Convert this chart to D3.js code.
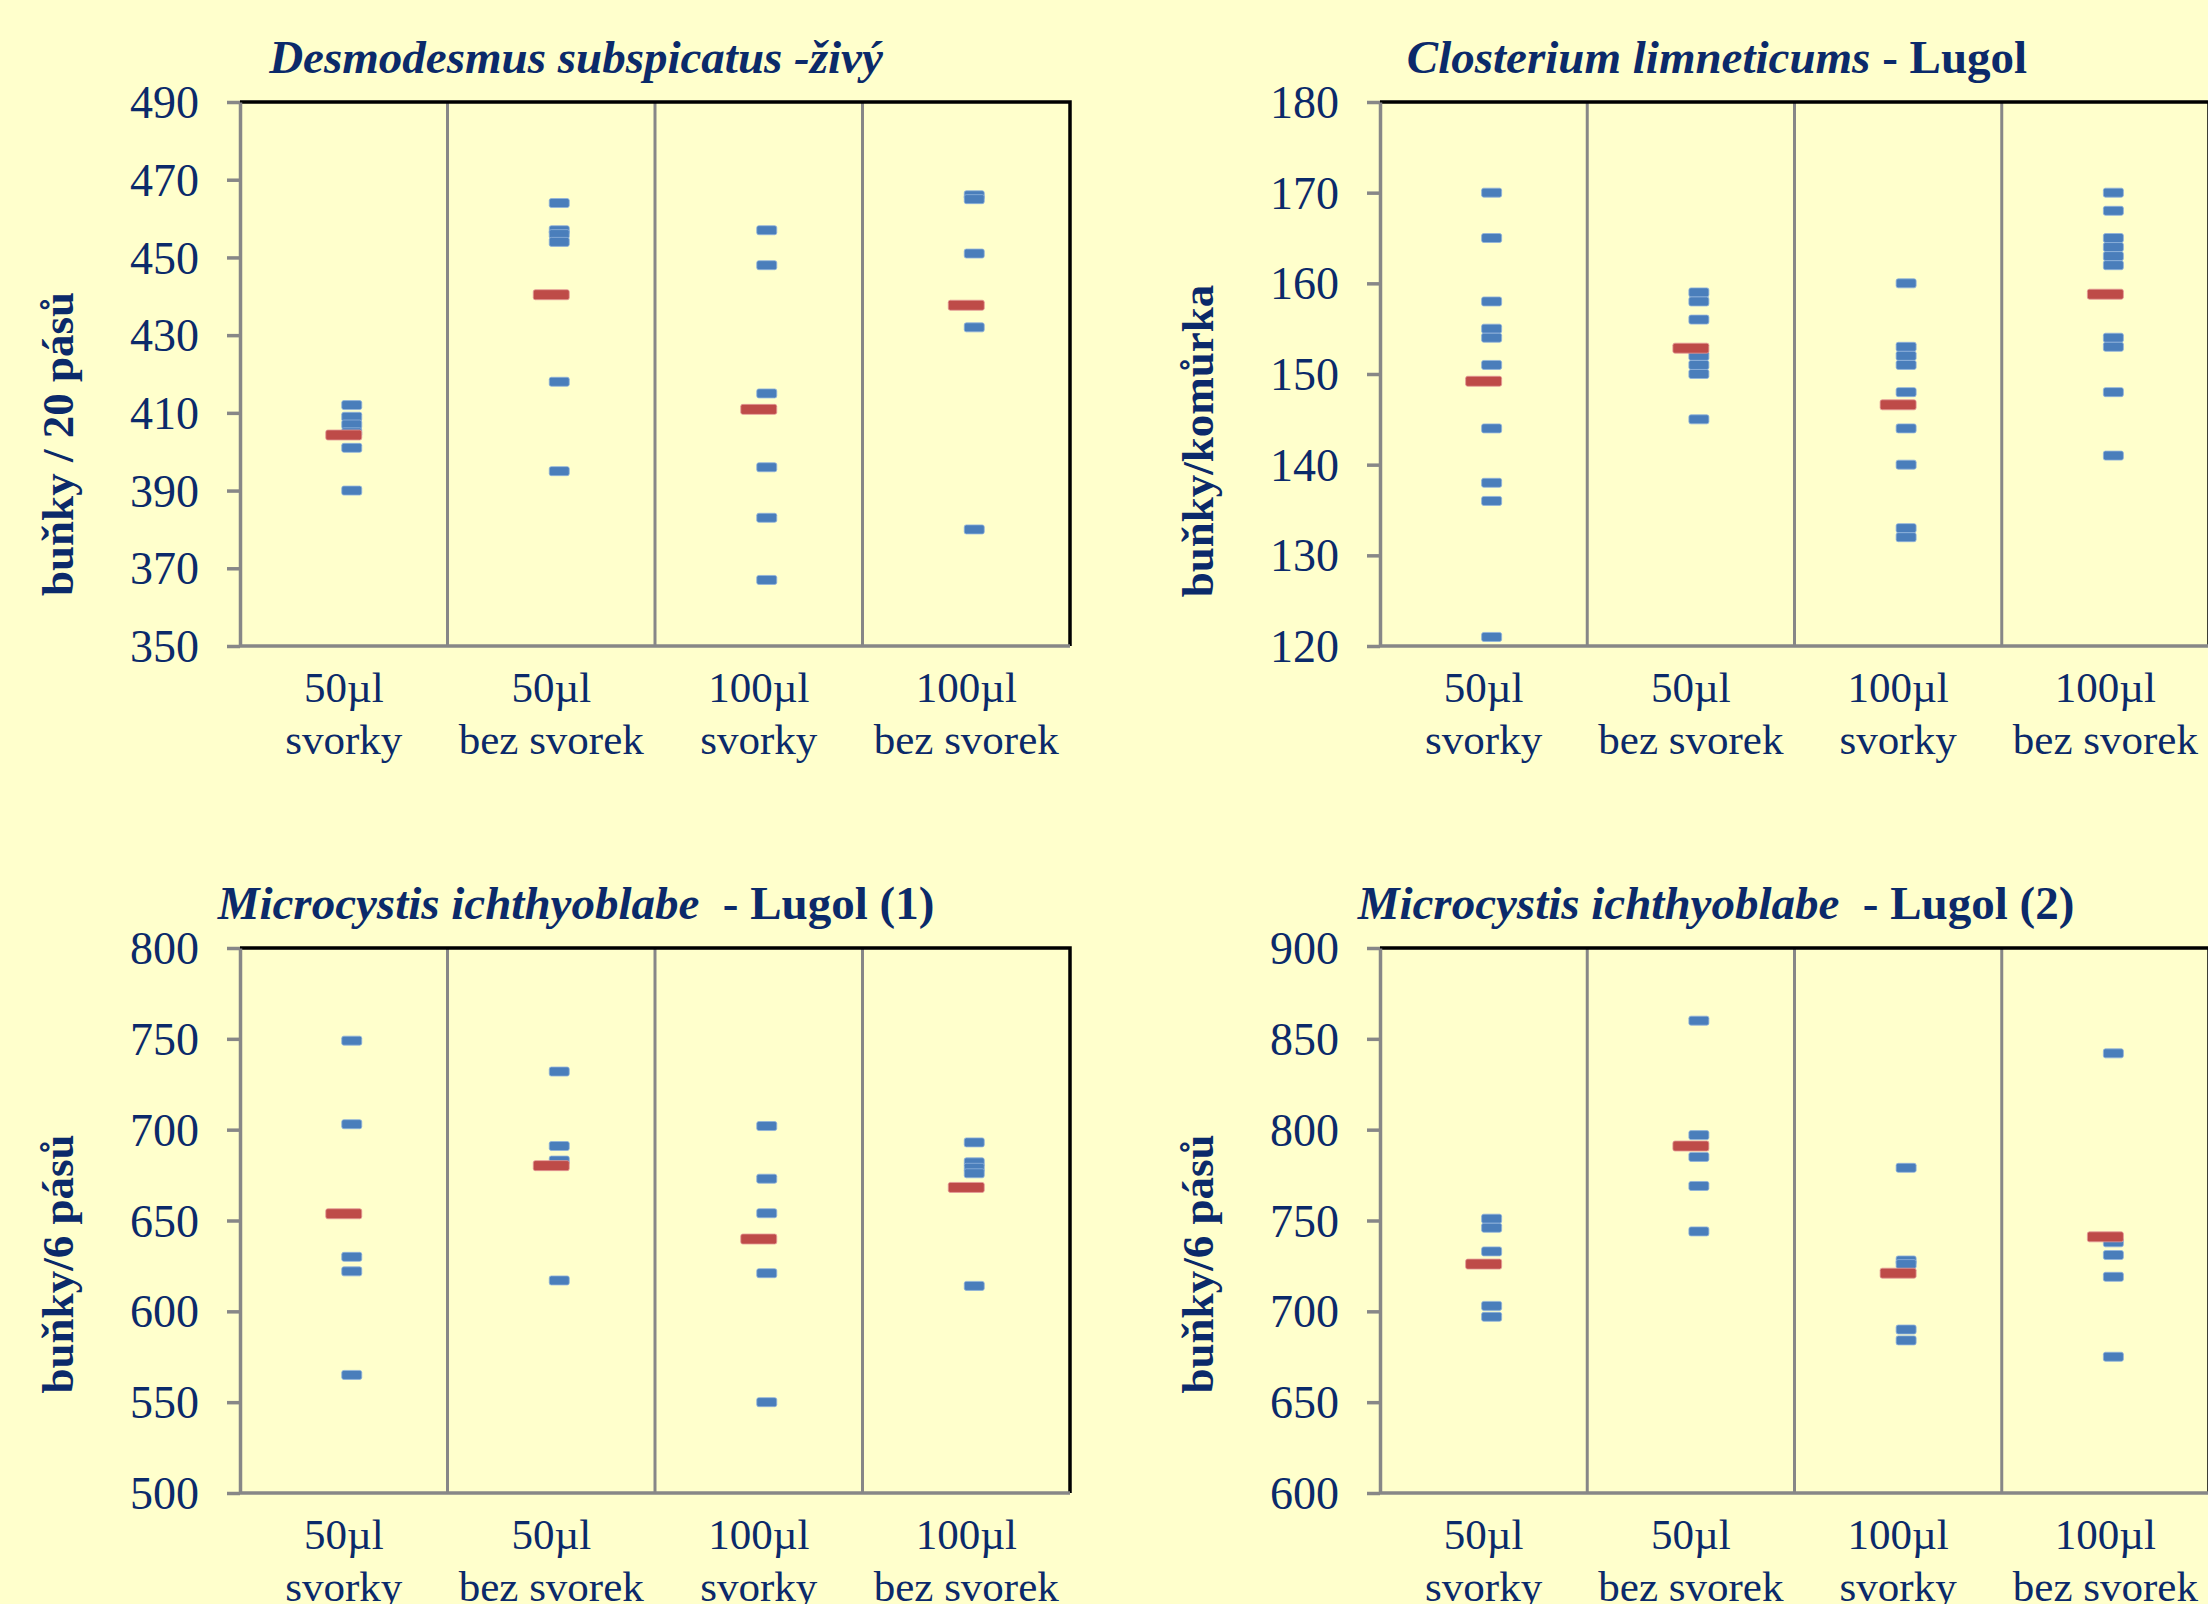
<!DOCTYPE html>
<html><head><meta charset="utf-8">
<script src="https://cdn.jsdelivr.net/npm/d3@7/dist/d3.min.js"></script>
<style>
body{margin:0;background:#FFFFCC;}
svg{display:block;}
text{font-family:"Liberation Serif","Times New Roman",serif;fill:#0B2A6A;white-space:pre;}
</style>
</head><body>
<svg id="chart" width="2208" height="1604"></svg>
<script>
// ---------- DATA ----------
const categories = ["50µl|svorky", "50µl|bez svorek", "100µl|svorky", "100µl|bez svorek"];

// Desmodesmus subspicatus - živý
const desmoValues = [
  [412, 409, 407, 405, 401, 390],
  [464, 457, 456, 454, 418, 395],
  [457, 448, 415, 396, 383, 367],
  [466, 465, 451, 432, 380]
];
const desmoMeans = [404.3, 440.4, 410.9, 437.7];
const desmoTicks = [350, 370, 390, 410, 430, 450, 470, 490];

// Closterium limneticums - Lugol
const closValues = [
  [170, 165, 158, 155, 154, 151, 144, 138, 136, 121],
  [159, 158, 156, 152, 151, 150, 145],
  [160, 153, 152, 151, 148, 144, 140, 133, 132],
  [170, 168, 165, 164, 163, 162, 154, 153, 148, 141]
];
const closMeans = [149.2, 152.85, 146.6, 158.8];
const closTicks = [120, 130, 140, 150, 160, 170, 180];

// Microcystis ichthyoblabe - Lugol (1)
const micro1Values = [
  [749, 703, 630, 622, 565],
  [732, 691, 683, 617],
  [702, 673, 654, 621, 550],
  [693, 682, 679, 676, 614]
];
const micro1Means = [653.7, 680.2, 639.8, 668.2];
const micro1Ticks = [500, 550, 600, 650, 700, 750, 800];

// Microcystis ichthyoblabe - Lugol (2)
const micro2Values = [
  [751, 746, 733, 703, 697],
  [860, 797, 785, 769, 744],
  [779, 728, 726, 690, 684],
  [842, 738, 731, 719, 675]
];
const micro2Means = [726, 791, 721, 741];
const micro2Ticks = [600, 650, 700, 750, 800, 850, 900];

// ---------- LAYOUT ----------
const panels = [
  {title: [["Desmodesmus subspicatus -živý", true]], titleX: 576, ytitle: "buňky / 20 pásů",
   values: desmoValues, means: desmoMeans, ticks: desmoTicks,
   x0: 240, x1: 1070, y0: 102, y1: 646, ytX: 73, ytY: 444},
  {title: [["Closterium limneticums", true], [" - Lugol", false]], titleX: 1717, ytitle: "buňky/komůrka",
   values: closValues, means: closMeans, ticks: closTicks,
   x0: 1380, x1: 2209, y0: 102, y1: 646, ytX: 1213, ytY: 441},
  {title: [["Microcystis ichthyoblabe", true], ["  - Lugol (1)", false]], titleX: 576, ytitle: "buňky/6 pásů",
   values: micro1Values, means: micro1Means, ticks: micro1Ticks,
   x0: 240, x1: 1070, y0: 948, y1: 1493, ytX: 73, ytY: 1264},
  {title: [["Microcystis ichthyoblabe", true], ["  - Lugol (2)", false]], titleX: 1716, ytitle: "buňky/6 pásů",
   values: micro2Values, means: micro2Means, ticks: micro2Ticks,
   x0: 1380, x1: 2209, y0: 948, y1: 1493, ytX: 1213, ytY: 1264}
];

const svg = d3.select("#chart");
svg.append("rect").attr("width", 2208).attr("height", 1604).attr("fill", "#FFFFCC");

const GRAY = "#878787";
const BLUE = "#4A7EBB";
const RED = "#BE4B48";

panels.forEach(p => {
  const g = svg.append("g");
  const x = d3.scaleBand().domain(categories).range([p.x0, p.x1]).padding(0);
  const y = d3.scaleLinear().domain(d3.extent(p.ticks)).range([p.y1, p.y0]);
  const bw = x.bandwidth();

  // dividers
  g.selectAll(".div").data(categories.slice(1)).enter().append("line")
    .attr("x1", d => x(d)).attr("x2", d => x(d))
    .attr("y1", p.y0).attr("y2", p.y1)
    .attr("stroke", GRAY).attr("stroke-width", 3);

  // top & right border (black)
  g.append("path")
    .attr("d", `M${p.x0},${p.y0}H${p.x1}V${p.y1}`)
    .attr("fill", "none").attr("stroke", "#000").attr("stroke-width", 3.5);

  // bottom axis line
  g.append("line").attr("x1", p.x0).attr("x2", p.x1).attr("y1", p.y1).attr("y2", p.y1)
    .attr("stroke", GRAY).attr("stroke-width", 3.5);

  // left axis
  const ax = g.append("g").attr("transform", `translate(${p.x0},0)`)
    .call(d3.axisLeft(y).tickValues(p.ticks).tickSize(13).tickSizeOuter(0).tickPadding(28).tickFormat(d3.format("d")));
  ax.select(".domain").attr("stroke", GRAY).attr("stroke-width", 3.5);
  ax.selectAll(".tick line").attr("stroke", GRAY).attr("stroke-width", 3.5);
  ax.selectAll(".tick text").attr("font-size", 46).attr("fill", "#0B2A6A")
    .style("font-family", '"Liberation Serif","Times New Roman",serif').attr("dy", "0.34em");

  // x labels
  categories.forEach(c => {
    const parts = c.split("|");
    const cx = x(c) + bw / 2;
    parts.forEach((t, i) => {
      g.append("text").attr("x", cx).attr("y", p.y1 + 56 + i * 52)
        .attr("text-anchor", "middle").attr("font-size", 43).text(t);
    });
  });

  // blue points
  categories.forEach((c, ci) => {
    g.selectAll(null).data(p.values[ci]).enter().append("rect")
      .attr("x", x(c) + bw / 2 - 2).attr("y", d => y(d) - 4.5)
      .attr("width", 20).attr("height", 9).attr("rx", 2)
      .attr("fill", BLUE).attr("stroke", "#8FB2DC").attr("stroke-width", 0.8);
  });
  // red means
  g.selectAll(null).data(p.means).enter().append("rect")
    .attr("x", (d, i) => x(categories[i]) + bw / 2 - 18).attr("y", d => y(d) - 5)
    .attr("width", 36).attr("height", 10).attr("rx", 2)
    .attr("fill", RED).attr("stroke", "#E49A98").attr("stroke-width", 0.8);

  // title
  const t = g.append("text").attr("x", p.titleX).attr("y", p.y0 - 29)
    .attr("text-anchor", "middle").attr("font-size", 47).attr("font-weight", "bold");
  p.title.forEach(([s, it]) => t.append("tspan").attr("font-style", it ? "italic" : "normal").text(s));

  // y title
  g.append("text").attr("transform", `translate(${p.ytX},${p.ytY}) rotate(-90)`)
    .attr("text-anchor", "middle").attr("font-size", 45).attr("font-weight", "bold").text(p.ytitle);
});
</script>
</body></html>
